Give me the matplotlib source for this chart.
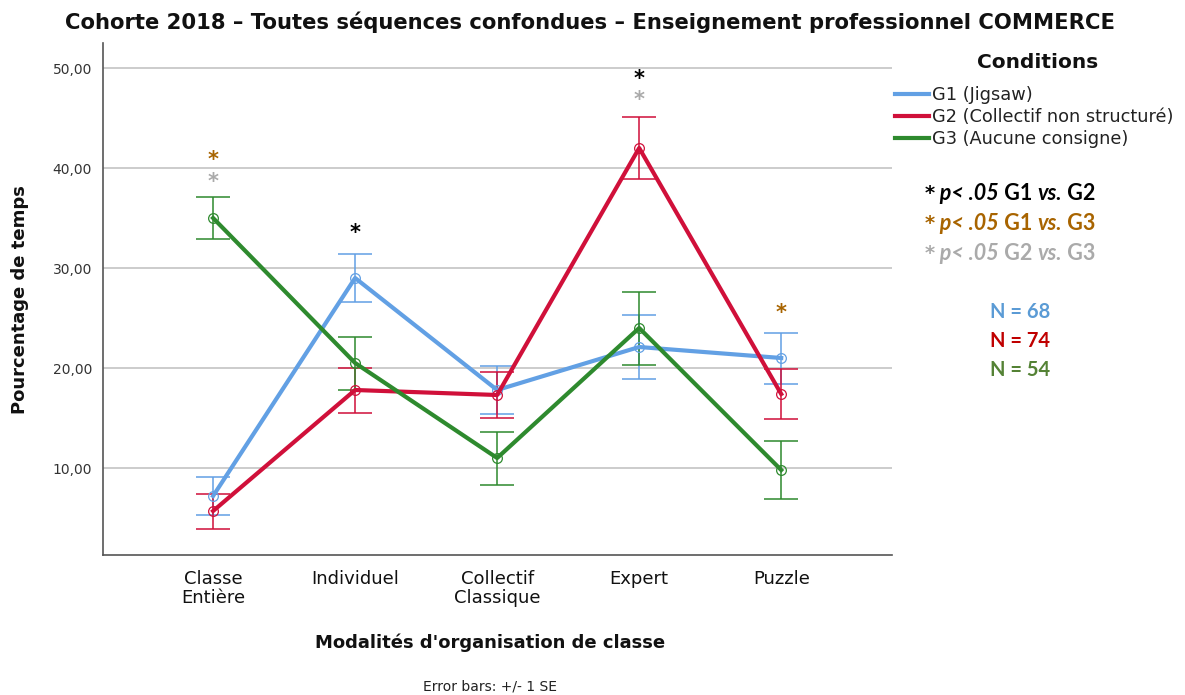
import matplotlib
matplotlib.use("Agg")
import matplotlib.pyplot as plt
from matplotlib.lines import Line2D
import numpy as np

# ---- data ----
categories = ["Classe\nEntière", "Individuel", "Collectif\nClassique", "Expert", "Puzzle"]
series_names = ["G1 (Jigsaw)", "G2 (Collectif non structuré)", "G3 (Aucune consigne)"]
g1_mean = [7.2, 29.0, 17.8, 22.1, 21.0]
g1_se = [1.9, 2.4, 2.4, 3.2, 2.55]
g2_mean = [5.7, 17.8, 17.3, 42.0, 17.4]
g2_se = [1.75, 2.25, 2.3, 3.1, 2.5]
g3_mean = [35.0, 20.5, 11.0, 24.0, 9.8]
g3_se = [2.1, 2.65, 2.65, 3.65, 2.9]
yticks = [10, 20, 30, 40, 50]
ytick_labels = ["10,00", "20,00", "30,00", "40,00", "50,00"]

# significance stars: (category index, y position, kind)
star_x = [0, 0, 1, 3, 3, 4]
star_y = [40.8, 38.6, 33.5, 48.9, 46.8, 25.5]
star_kind = ["g1g3", "g2g3", "g1g2", "g1g2", "g2g3", "g1g3"]

note_pairs = [("G1", "G2"), ("G1", "G3"), ("G2", "G3")]
n_labels = ["N = 68", "N = 74", "N = 54"]

# ---- style ----
colors = ["#62a0e4", "#d0103a", "#2e8a2e"]
star_colors = {"g1g2": "#000000", "g1g3": "#a86400", "g2g3": "#aaaaaa"}
note_colors = ["#000000", "#a86400", "#aaaaaa"]
n_colors = ["#5b9bd5", "#c00000", "#548235"]

plt.rcParams["font.family"] = ["DejaVu Sans"]

fig = plt.figure(figsize=(11.85, 6.95), dpi=100)
ax = fig.add_axes([103/1185, 1-555/695, (892-103)/1185, (555-43)/695])

x = np.arange(len(categories))
means = [g1_mean, g2_mean, g3_mean]
ses = [g1_se, g2_se, g3_se]
handles = []
for m, s, c, name in zip(means, ses, colors, series_names):
    ax.errorbar(x, m, yerr=s, fmt="none", ecolor=c, elinewidth=1.3,
                capsize=12.5, capthick=1.3, alpha=0.85, zorder=3)
    ax.plot(x, m, color=c, lw=3.0, marker="o", ms=7, mfc="none",
            mec=c, mew=0.9, zorder=4)
    handles.append(Line2D([], [], color=c, lw=3.0, label=name))

for xi, yi, k in zip(star_x, star_y, star_kind):
    ax.text(xi, yi, "*", color=star_colors[k], fontsize=15, fontweight="bold",
            ha="center", va="center", zorder=5)

ax.set_xlim(-0.775, 4.78)
ax.set_ylim(1.3, 52.5)
ax.set_yticks(yticks)
ax.set_yticklabels(ytick_labels, fontsize=10, color="#333333")
ax.set_xticks(x)
ax.set_xticklabels(categories, fontsize=13, color="#111111", linespacing=1.05)
ax.tick_params(axis="both", length=0, pad=8)
ax.tick_params(axis="x", pad=11)
ax.grid(axis="y", color="#c8c8c8", lw=1.3)
ax.set_axisbelow(True)
for sp in ["top", "right"]:
    ax.spines[sp].set_visible(False)
for sp in ["left", "bottom"]:
    ax.spines[sp].set_color("#555555")
    ax.spines[sp].set_linewidth(1.2)

fig.text(590/1185, 1-22/695, "Cohorte 2018 – Toutes séquences confondues – Enseignement professionnel COMMERCE",
         ha="center", va="center", fontsize=15.2, fontweight="bold", color="#111111")
fig.text(20/1185, 1-300/695, "Pourcentage de temps", rotation=90, ha="center", va="center",
         fontsize=13, fontweight="bold", color="#111111")
fig.text(490/1185, 1-643/695, "Modalités d'organisation de classe", ha="center", va="center",
         fontsize=13, fontweight="bold", color="#111111")
fig.text(490/1185, 1-687/695, "Error bars: +/- 1 SE", ha="center", va="center",
         fontsize=10, color="#222222")

fig.text(1038/1185, 1-62/695, "Conditions", ha="center", va="center",
         fontsize=14.5, fontweight="bold", color="#111111")
leg = fig.legend(handles=handles, loc="upper left", bbox_to_anchor=(895/1185, 1-86/695),
                 frameon=False, prop={"size": 12.8},
                 handlelength=1.9, handletextpad=0.2, labelspacing=0.22, borderpad=0.0,
                 borderaxespad=0.0)
for t in leg.get_texts():
    t.set_color("#222222")

# significance notes built piecewise (regular bold + italic bold)
fig.canvas.draw()
renderer = fig.canvas.get_renderer()
for i, ((a, b), c) in enumerate(zip(note_pairs, note_colors)):
    yy = 1 - (194 + i*29.5)/695
    pieces = [("*", "normal", "DejaVu Sans", 14), (" p< .05", "italic", "Lato", 15.5),
              (" " + a + " ", "normal", "Lato", 15.5),
              ("vs.", "italic", "Lato", 15.5), (" " + b, "normal", "Lato", 15.5)]
    xpix = 925
    for txt, style, fam, fs in pieces:
        t = fig.text(xpix/1185, yy, txt, ha="left", va="center", fontsize=fs,
                     fontweight="bold", fontstyle=style, color=c, family=fam)
        bb = t.get_window_extent(renderer=renderer)
        xpix += bb.width

for i, (nl, c) in enumerate(zip(n_labels, n_colors)):
    fig.text(1020/1185, 1-(312 + i*29)/695, nl, ha="center", va="center",
             fontsize=14.5, fontweight="bold", color=c, family="Lato")

fig.savefig("out.png", dpi=100)
